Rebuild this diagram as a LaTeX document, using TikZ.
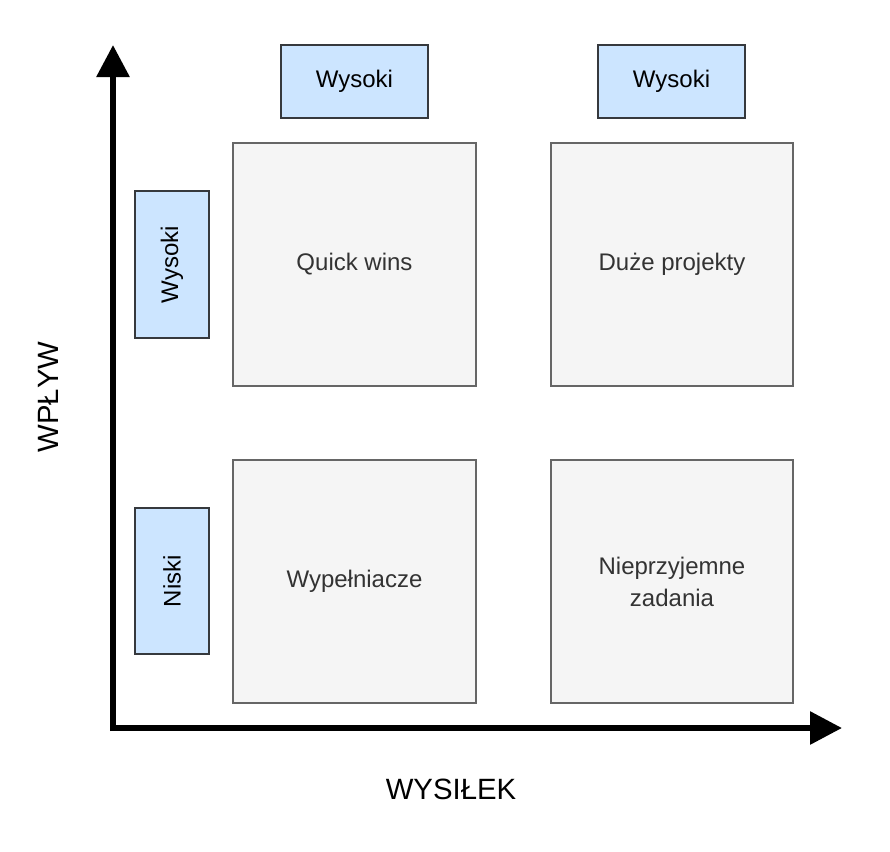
\documentclass[tikz,border=0pt]{standalone}
\usepackage{fontspec}
\setmainfont{Liberation Sans}
\usetikzlibrary{arrows.meta}
\definecolor{bfill}{HTML}{CCE5FF}
\definecolor{bdraw}{HTML}{36393D}
\definecolor{gfill}{HTML}{F5F5F5}
\definecolor{gdraw}{HTML}{666666}
\definecolor{gtext}{HTML}{333333}
\begin{document}
\begin{tikzpicture}[x=0.75pt,y=-0.75pt,
  lab/.style={draw=bdraw,fill=bfill,line width=1.5pt,inner sep=0pt,font=\fontsize{18}{21}\selectfont},
  quad/.style={draw=gdraw,fill=gfill,line width=1.5pt,inner sep=0pt,minimum width=182pt,minimum height=182pt,text=gtext,align=center,font=\fontsize{18}{24}\selectfont},
  axis/.style={line width=4.5pt,-{Triangle[length=24pt,width=24pt]}}]
\useasboundingbox (0,0) rectangle (890,851);
\node[lab,minimum width=110pt,minimum height=55pt] (t1) at (354.5,81.5) {Wysoki};
\node[lab,minimum width=110pt,minimum height=55pt] (t2) at (671.5,81.5) {Wysoki};
\node[lab,minimum width=55pt,minimum height=110pt] (l1) at (172,264.5) {};
\node[rotate=90,font=\fontsize{18}{21}\selectfont] (l1t) at (l1) {Wysoki};
\node[lab,minimum width=55pt,minimum height=110pt] (l2) at (172,581) {};
\node[rotate=90,font=\fontsize{18}{21}\selectfont] (l2t) at (l2) {Niski};
\node[quad] (q1) at (354.5,264.5) {Quick wins};
\node[quad] (q2) at (672,264.5) {Duże projekty};
\node[quad] (q3) at (354.5,581.5) {Wypełniacze};
\node[quad] (q4) at (672,581.5) {Nieprzyjemne\\zadania};
\coordinate (o) at (113,728);
\coordinate (ytop) at (113,45);
\coordinate (xend) at (842,728);
\draw[axis] (113,731) -- (ytop);
\draw[axis] (110,728) -- (xend);
\node[rotate=90,font=\fontsize{22}{26}\selectfont] (yl) at (48,397) {WPŁYW};
\node[font=\fontsize{22}{26}\selectfont] (xl) at (451,789) {WYSIŁEK};
\end{tikzpicture}
\end{document}
